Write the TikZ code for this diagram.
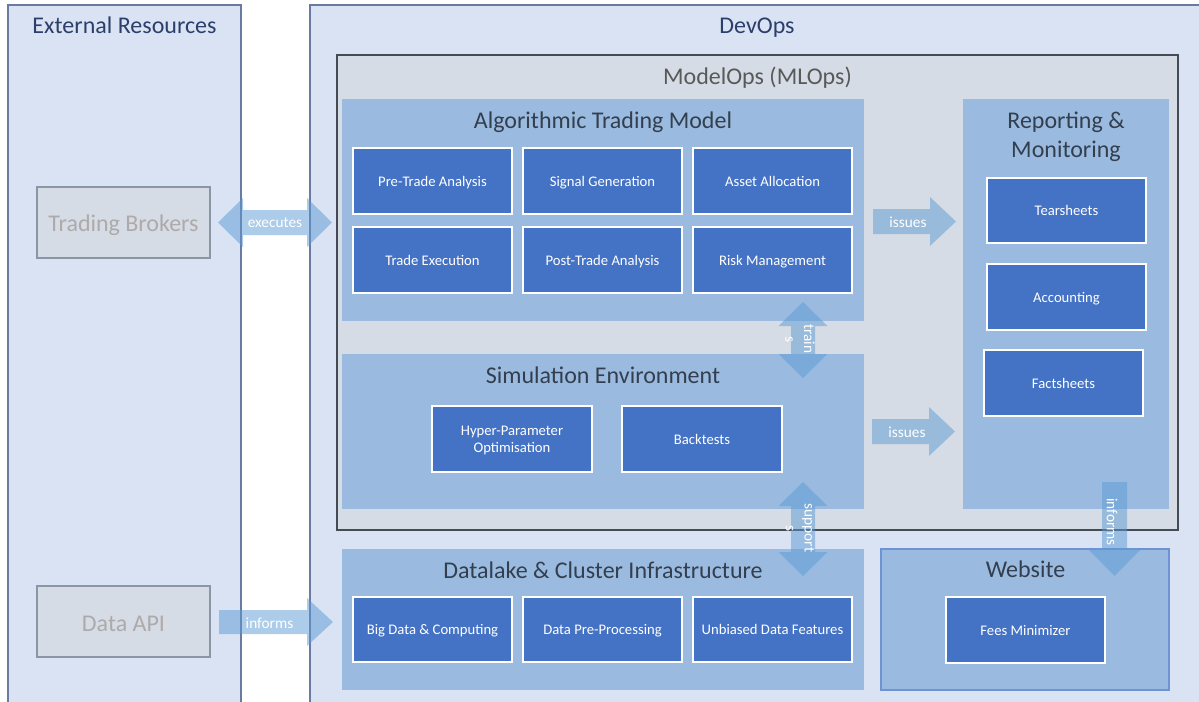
\documentclass[tikz,border=0pt]{standalone}
\usepackage{fontspec}
\setmainfont{Carlito}
\usetikzlibrary{fit}
\definecolor{outerfill}{HTML}{DAE3F3}
\definecolor{outerdraw}{HTML}{6A7BA2}
\definecolor{mopsfill}{HTML}{D6DCE5}
\definecolor{mopsdraw}{HTML}{454B55}
\definecolor{panelfill}{HTML}{9ABBDF}
\definecolor{webdraw}{HTML}{6C93D4}
\definecolor{boxblue}{HTML}{4472C4}
\definecolor{graydraw}{HTML}{8A96A8}
\definecolor{graytext}{HTML}{AEAAAA}
\definecolor{navytext}{HTML}{2C3E6B}
\definecolor{mopstext}{HTML}{595959}
\definecolor{paneltext}{HTML}{333F4F}
\definecolor{arrowc}{HTML}{5B9BD5}
\newcommand\titlefont{\fontsize{18}{21.75}\selectfont}
\newcommand\boxfont{\fontsize{11}{13}\selectfont}
\newcommand\lblfont{\fontsize{11.5}{14}\selectfont}
\newcommand\sarrow[6]{%
  \fill[arr, shift={(#1)}, rotate=#2] (0,-#4) -- ({#3-#6},-#4) -- ({#3-#6},-#5) -- (#3,0) -- ({#3-#6},#5) -- ({#3-#6},#4) -- (0,#4) -- cycle;}
\newcommand\darrow[6]{%
  \fill[arr, shift={(#1)}, rotate=#2] (0,0) -- (#6,-#5) -- (#6,-#4) -- ({#3-#6},-#4) -- ({#3-#6},-#5) -- (#3,0) -- ({#3-#6},#5) -- ({#3-#6},#4) -- (#6,#4) -- (#6,#5) -- cycle;}
% box from corner (x1,y1) to (x2,y2), in px
\newcommand\pxbox[7]{%
  \node[#1, minimum width=(#5-#3)*0.75pt, minimum height=(#6-#4)*0.75pt] (#2) at ({(#3+#5)/2},{(#4+#6)/2}) {#7};}
\tikzset{
  outer/.style={fill=outerfill, draw=outerdraw, line width=0.9pt, inner sep=0pt},
  mops/.style={fill=mopsfill, draw=mopsdraw, line width=1.1pt, inner sep=0pt},
  panel/.style={fill=panelfill, draw=none, inner sep=0pt},
  webpanel/.style={fill=panelfill, draw=webdraw, line width=0.8pt, inner sep=0pt},
  ibox/.style={fill=boxblue, draw=white, line width=0.8pt, inner sep=0pt, text=white, align=center, font=\boxfont, text depth=0pt},
  gbox/.style={fill=mopsfill, draw=graydraw, line width=0.9pt, inner sep=0pt},
  title/.style={font=\titlefont, inner sep=0pt},
  arr/.style={fill=arrowc, fill opacity=0.5},
  arrlabel/.style={text=white, font=\lblfont, inner sep=0pt, align=center},
}
\begin{document}
\begin{tikzpicture}[x=0.75pt,y=-0.75pt]
\useasboundingbox (0,0) rectangle (1199,701);
\clip (0,0) rectangle (1199,701);
\fill[white] (0,0) rectangle (1199,701);
% outer panels
\pxbox{outer}{ext}{8}{5}{241}{712}{}
\node[title, text=navytext, anchor=base] (ext-t) at (124.5,33) {External Resources};
\pxbox{outer}{devops}{310}{5}{1215}{712}{}
\node[title, text=navytext, anchor=base] (devops-t) at (757,33) {DevOps};
% external boxes
\pxbox{gbox}{brokers}{37}{187}{210}{258}{}
\node[title, text=graytext, anchor=base] (brokers-t) at (123.5,231.5) {Trading Brokers};
\pxbox{gbox}{dapi}{37}{586}{210}{657}{}
\node[title, text=graytext, anchor=base] (dapi-t) at (123.5,631.5) {Data API};
% ModelOps
\pxbox{mops}{mops}{337}{55}{1178}{530}{}
\node[title, text=mopstext, anchor=base] (mops-t) at (757.5,84) {ModelOps (MLOps)};
% Algorithmic Trading Model
\pxbox{panel}{atm}{342}{99}{864}{321}{}
\node[title, text=paneltext, anchor=base] (atm-t) at (603,128) {Algorithmic Trading Model};
\pxbox{ibox}{pta}{353}{148}{512}{214}{Pre-Trade Analysis}
\pxbox{ibox}{sg}{523}{148}{682}{214}{Signal Generation}
\pxbox{ibox}{aa}{693}{148}{852}{214}{Asset Allocation}
\pxbox{ibox}{te}{353}{227}{512}{293}{Trade Execution}
\pxbox{ibox}{ptra}{523}{227}{682}{293}{Post-Trade Analysis}
\pxbox{ibox}{rm}{693}{227}{852}{293}{Risk Management}
% Simulation Environment
\pxbox{panel}{sim}{342}{354}{864}{509}{}
\node[title, text=paneltext, anchor=base] (sim-t) at (603,383) {Simulation Environment};
\pxbox{ibox}{hpo}{432}{406}{592}{472}{Hyper-Parameter\\Optimisation}
\pxbox{ibox}{bt}{622}{406}{782}{472}{Backtests}
% Reporting & Monitoring
\pxbox{panel}{rep}{963}{99}{1169}{509}{}
\node[title, text=paneltext, align=center] (rep-t) at (1066,137) {Reporting \&\\Monitoring};
\pxbox{ibox}{tear}{987}{178}{1146}{243}{Tearsheets}
\pxbox{ibox}{acc}{987}{264}{1146}{330}{Accounting}
\pxbox{ibox}{fact}{984}{350}{1143}{416}{Factsheets}
% Datalake
\pxbox{panel}{dl}{342}{549}{864}{690}{}
\node[title, text=paneltext, anchor=base] (dl-t) at (603,578) {Datalake \& Cluster Infrastructure};
\pxbox{ibox}{bdc}{353}{597}{512}{662}{Big Data \& Computing}
\pxbox{ibox}{dpp}{523}{597}{682}{662}{Data Pre-Processing}
\pxbox{ibox}{udf}{693}{597}{852}{662}{Unbiased Data Features}
% Website
\pxbox{webpanel}{web}{881}{549}{1169}{690}{}
\node[title, text=paneltext, anchor=base] (web-t) at (1025.5,577) {Website};
\pxbox{ibox}{fees}{946}{597}{1105}{663}{Fees Minimizer}
% arrow end coordinates
\coordinate (exec-s) at (218,222.5);
\coordinate (inf-s) at (219,622);
\coordinate (iss1-s) at (873,221.5);
\coordinate (iss2-s) at (872,431.5);
\coordinate (train-s) at (803,302);
\coordinate (supp-s) at (803,482);
\coordinate (infv-s) at (1114.5,482);
% block arrows
\darrow{exec-s}{0}{114}{12.5}{24.5}{25}
\sarrow{inf-s}{0}{114}{12}{24}{26}
\sarrow{iss1-s}{0}{83}{12.5}{24.5}{26}
\sarrow{iss2-s}{0}{83}{12.5}{24.5}{26}
\darrow{train-s}{-90}{76}{12}{24.5}{24}
\darrow{supp-s}{-90}{94}{12}{24.5}{24}
\sarrow{infv-s}{-90}{94}{12.5}{25.5}{26}
% arrow labels
\node[arrlabel] (exec-l) at (275,223) {executes};
\node[arrlabel] (inf-l) at (269.5,623.5) {informs};
\node[arrlabel] (iss1-l) at (908,222.5) {issues};
\node[arrlabel] (iss2-l) at (907,432.5) {issues};
\node[arrlabel, rotate=-90] (train-l) at (800,339) {train\\s};
\node[arrlabel, rotate=-90] (supp-l) at (800,528) {support\\s};
\node[arrlabel, rotate=-90] (infv-l) at (1112,522) {informs};
\end{tikzpicture}
\end{document}
